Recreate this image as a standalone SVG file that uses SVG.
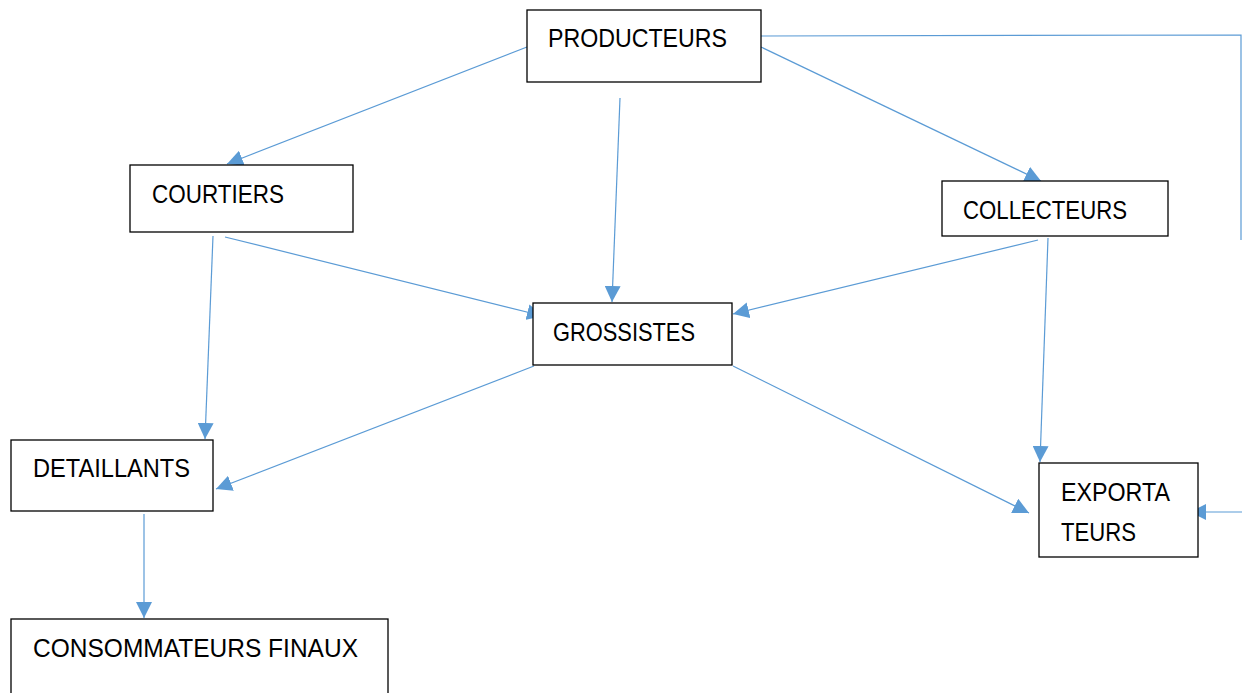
<svg xmlns="http://www.w3.org/2000/svg" width="1242" height="693" viewBox="0 0 1242 693">
<style>
.box{fill:#fff;stroke:#000;stroke-width:1.3}
.lbl{font-family:"Liberation Sans",Arial,sans-serif;font-size:26px;fill:#000}
.c{fill:none;stroke:#5B9BD5;stroke-width:1.2}
</style>
<defs>
<marker id="ah" markerUnits="userSpaceOnUse" markerWidth="17" markerHeight="16" refX="16" refY="8" orient="auto">
<path d="M0,0 L16,8 L0,16 Z" fill="#5B9BD5"/>
</marker>
</defs>
<rect width="1242" height="693" fill="#fff"/>
<g id="connectors">
<line class="c" x1="527" y1="47" x2="227" y2="164" marker-end="url(#ah)"/>
<line class="c" x1="620" y1="98" x2="612" y2="302" marker-end="url(#ah)"/>
<line class="c" x1="761" y1="47" x2="1041" y2="181" marker-end="url(#ah)"/>
<polyline class="c" points="761,36 1241,35 1241,240"/>
<line class="c" x1="1242" y1="512" x2="1190" y2="512" marker-end="url(#ah)"/>
<line class="c" x1="213" y1="236" x2="205" y2="439" marker-end="url(#ah)"/>
<line class="c" x1="225" y1="237" x2="543" y2="316" marker-end="url(#ah)"/>
<line class="c" x1="1038" y1="240" x2="733" y2="314" marker-end="url(#ah)"/>
<line class="c" x1="1048" y1="238" x2="1040" y2="462" marker-end="url(#ah)"/>
<line class="c" x1="534" y1="366" x2="216" y2="489" marker-end="url(#ah)"/>
<line class="c" x1="733" y1="366" x2="1029" y2="513" marker-end="url(#ah)"/>
<line class="c" x1="144" y1="514" x2="144" y2="618" marker-end="url(#ah)"/>
</g>
<g id="producteurs">
<rect class="box" x="527" y="10" width="234" height="72"/>
<text class="lbl" x="548" y="47" textLength="179" lengthAdjust="spacingAndGlyphs">PRODUCTEURS</text>
</g>
<g id="courtiers">
<rect class="box" x="130" y="165" width="223" height="67"/>
<text class="lbl" x="152" y="203" textLength="132" lengthAdjust="spacingAndGlyphs">COURTIERS</text>
</g>
<g id="collecteurs">
<rect class="box" x="942" y="181" width="226" height="55"/>
<text class="lbl" x="963" y="219" textLength="164" lengthAdjust="spacingAndGlyphs">COLLECTEURS</text>
</g>
<g id="grossistes">
<rect class="box" x="533" y="303" width="199" height="62"/>
<text class="lbl" x="553" y="341" textLength="142" lengthAdjust="spacingAndGlyphs">GROSSISTES</text>
</g>
<g id="detaillants">
<rect class="box" x="11" y="440" width="202" height="71"/>
<text class="lbl" x="33" y="477" textLength="157" lengthAdjust="spacingAndGlyphs">DETAILLANTS</text>
</g>
<g id="exportateurs">
<rect class="box" x="1039" y="463" width="159" height="94"/>
<text class="lbl" x="1061" y="501" textLength="109" lengthAdjust="spacingAndGlyphs">EXPORTA</text>
<text class="lbl" x="1061" y="541" textLength="75" lengthAdjust="spacingAndGlyphs">TEURS</text>
</g>
<g id="consommateurs">
<rect class="box" x="11" y="619" width="377" height="90"/>
<text class="lbl" x="33" y="657" textLength="325" lengthAdjust="spacingAndGlyphs">CONSOMMATEURS FINAUX</text>
</g>
</svg>
